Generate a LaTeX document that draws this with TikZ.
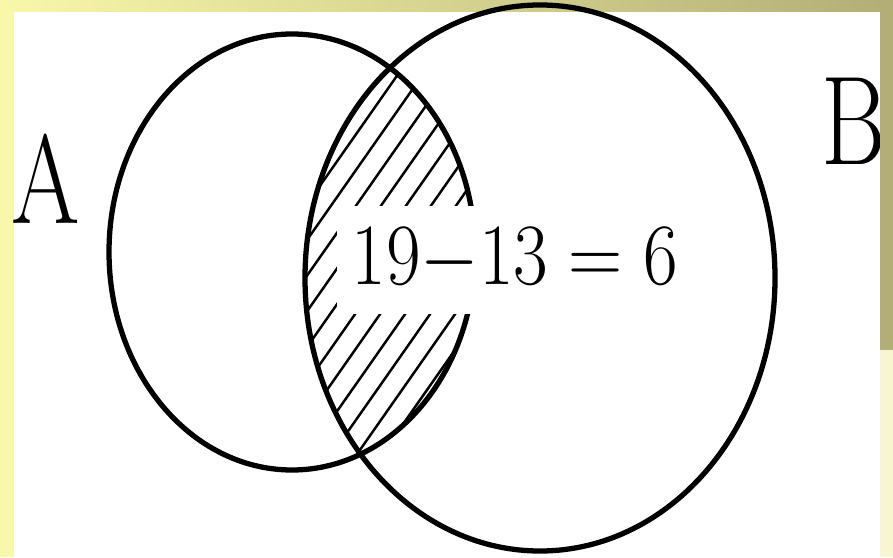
\documentclass[tikz,border=0pt]{standalone}
\usetikzlibrary{positioning}
\definecolor{bgYellow}{HTML}{F9F7AA}
\definecolor{bgOlive}{HTML}{B3AE76}
\definecolor{bgPale}{HTML}{F8F5D3}

\begin{document}
\begin{tikzpicture}[
      set/.style={line width=1.5pt},
      hatch/.style={line width=0.7pt},
      lbl/.style={font=\fontsize{36}{36}\selectfont, inner sep=0pt}]
    \useasboundingbox (0,0) rectangle (8.93,5.57);
    \fill[bgYellow] (0,0) rectangle (8.93,5.57);
    \shade[left color=bgYellow, right color=bgOlive] (0,5.45) rectangle (8.93,5.57);
    \fill[white] (0.14,0) rectangle (8.80,5.45);
    \begin{scope}
      \clip (2.92,3.05) ellipse [x radius=1.83, y radius=2.18];
      \clip (5.40,2.79) ellipse [x radius=2.35, y radius=2.73];
      \foreach \i in {0,...,26}
        \draw[hatch] (-1.4+0.25*\i,0) -- ++(55:7);
    \end{scope}
    \draw[set] (2.92,3.05) ellipse [x radius=1.83, y radius=2.18];
    \draw[set] (5.40,2.79) ellipse [x radius=2.35, y radius=2.73];
    \node[lbl, font=\fontsize{38}{38}\selectfont, fill=white, minimum height=1.07cm,
          inner xsep=0.15cm] (diff) at (5.15,2.97)
      {\scalebox{0.86}[1]{$19{-}13=6$}};
    \node[lbl] (labA) at (0.46,3.78) {\scalebox{0.78}[1]{A}};
    \node[lbl] (labB) at (8.54,4.36) {\scalebox{0.78}[1]{B}};
    \fill[bgOlive] (8.80,2.07) rectangle (8.93,5.57);
    \fill[bgPale] (8.80,0) rectangle (8.93,2.07);
  \end{tikzpicture}
\end{document}
